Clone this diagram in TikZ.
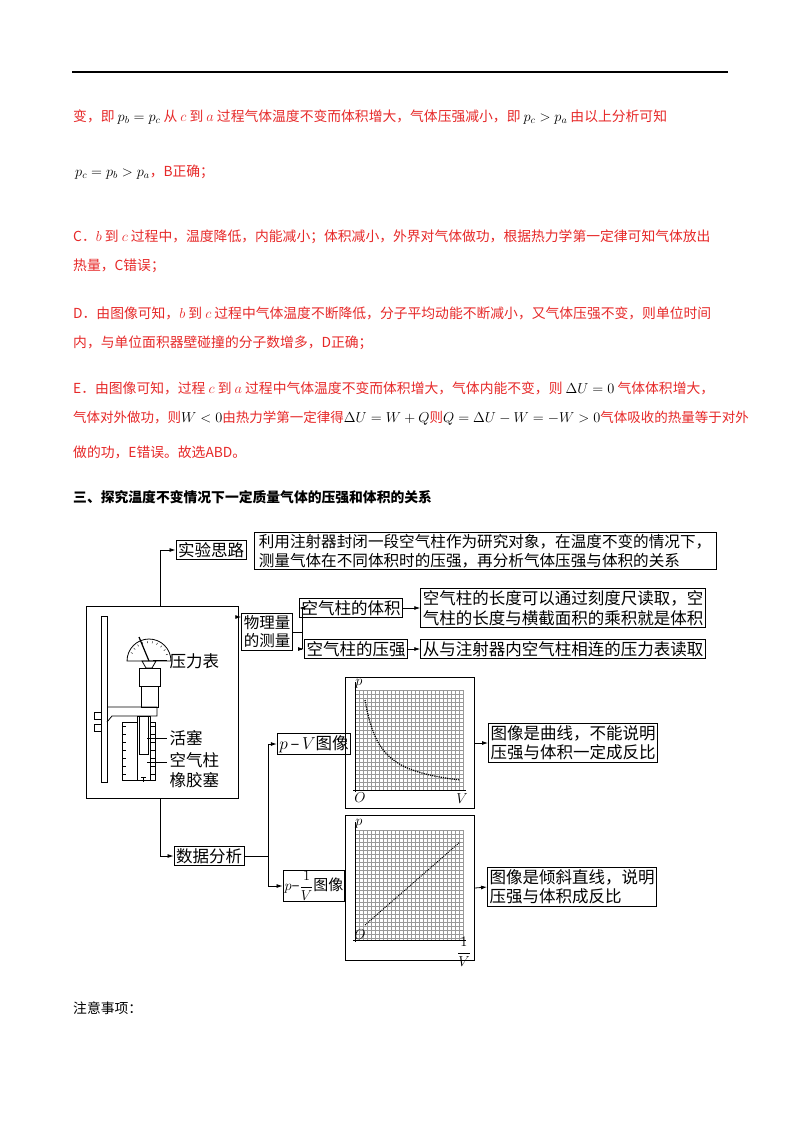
\documentclass[tikz,border=0pt]{standalone}
\usepackage{fontspec}
\setmainfont{Noto Sans CJK SC}
\usetikzlibrary{arrows.meta}
\definecolor{ans}{RGB}{230,40,40}
\begin{document}
\begin{tikzpicture}[x=1pt,y=-1pt,
  tl/.style={anchor=west,inner sep=0,text=ans,font=\fontsize{13.8}{16}\selectfont},
  bx/.style={draw,line width=1pt,inner sep=2pt,font=\fontsize{16.5}{19.5}\selectfont,align=left},
  ar/.style={-{Latex[length=6pt,width=4pt]},line width=0.8pt},
  ln/.style={line width=0.8pt},
  gl/.style={font=\fontsize{15}{15}\selectfont,inner sep=0}]
\useasboundingbox (0,0) rectangle (800,1132);
\draw[line width=1.2pt] (72,72) -- (728,72);
\node[tl] (l1) at (73,117) {变，即 $\color{black}p_b=p_c$ 从 $c$ 到 $a$ 过程气体温度不变而体积增大，气体压强减小，即 $\color{black}p_c>p_a$ 由以上分析可知};
\node[tl] (l2) at (75,172) {$\color{black}p_c=p_b>p_a$，B正确；};
\node[tl] (l3) at (73,237) {C．$b$ 到 $c$ 过程中，温度降低，内能减小；体积减小，外界对气体做功，根据热力学第一定律可知气体放出};
\node[tl] (l4) at (73,266) {热量，C错误；};
\node[tl] (l5) at (73,313) {D．由图像可知，$b$ 到 $c$ 过程中气体温度不断降低，分子平均动能不断减小，又气体压强不变，则单位时间};
\node[tl] (l6) at (73,343) {内，与单位面积器壁碰撞的分子数增多，D正确；};
\node[tl] (l7) at (73,388) {E．由图像可知，过程 $c$ 到 $a$ 过程中气体温度不变而体积增大，气体内能不变，则 $\color{black}\Delta U=0$ 气体体积增大，};
\node[tl,font=\fontsize{13.5}{16}\selectfont] (l8) at (73,418) {气体对外做功，则$\color{black}W<0$由热力学第一定律得$\color{black}\Delta U=W+Q$则$\color{black}Q=\Delta U-W=-W>0$气体吸收的热量等于对外};
\node[tl] (l9) at (73,452) {做的功，E错误。故选ABD。};
\node[tl,text=black,font=\bfseries\fontsize{13.8}{16}\selectfont] (h) at (73,497) {三、探究温度不变情况下一定质量气体的压强和体积的关系};
% diagram boxes
\node[bx] (sy) at (211,550) {实验思路};
\node[bx,font=\fontsize{15.6}{19}\selectfont,minimum width=462pt] (syt) at (485,551) {利用注射器封闭一段空气柱作为研究对象，在温度不变的情况下，\\测量气体在不同体积时的压强，再分析气体压强与体积的关系};
\node[draw,line width=1pt,minimum width=152pt,minimum height=192pt] (app) at (162,702) {};
\node[bx,font=\fontsize{15.5}{18}\selectfont] (wl) at (267,632) {物理量\\的测量};
\node[bx] (tj) at (351,608) {空气柱的体积};
\node[bx] (yq) at (356,649) {空气柱的压强};
\node[bx,minimum width=278pt] (tjt) at (563,608) {空气柱的长度可以通过刻度尺读取，空\\气柱的长度与横截面积的乘积就是体积};
\node[bx,minimum width=278pt] (yqt) at (563,649) {从与注射器内空气柱相连的压力表读取};
\node[bx] (pv) at (314,744) {$p$\,--\,$V$图像};
\node[bx] (sj) at (209,856) {数据分析};
\node[bx,font=\fontsize{15}{18}\selectfont,inner sep=1.5pt] (pi) at (314,886) {$p$--$\displaystyle\frac{1}{V}$图像};
\node[draw,line width=1pt,minimum width=129pt,minimum height=131pt] (g1) at (410,743) {};
\node[draw,line width=1pt,minimum width=129pt,minimum height=145pt] (g2) at (410,888) {};
\node[bx] (g1t) at (573,743) {图像是曲线，不能说明\\压强与体积一定成反比};
\node[bx] (g2t) at (572,887) {图像是倾斜直线，说明\\压强与体积成反比};
% grids
\foreach \y/\t in {690/790,830/940}{
  \foreach \gx in {355,359,...,463} \draw[gray!80,line width=0.3pt] (\gx,\y) -- (\gx,\t);
}
\foreach \gy in {690,694,...,790} \draw[gray!80,line width=0.3pt] (355,\gy) -- (463,\gy);
\foreach \gy in {830,834,...,940} \draw[gray!80,line width=0.3pt] (355,\gy) -- (463,\gy);
\draw[line width=0.9pt] (355,792) -- (355,682);
\draw[line width=0.9pt] (353,790) -- (466,790);
\draw[line width=0.9pt] (355,942) -- (355,822);
\draw[line width=0.9pt] (353,940) -- (466,940);
\node[gl] (p1) at (359,684) {$p$};
\node[gl] (o1) at (360,798) {$O$};
\node[gl] (v1) at (462,799) {$V$};
\node[gl] (p2) at (359,824) {$p$};
\node[gl] (o2) at (360,935) {$O$};
\node[gl] (v2) at (464,952) {$\displaystyle\frac{1}{V}$};
\draw[line width=1.2pt,densely dotted] plot[domain=0:1,samples=40] ({365+\x*95},{780-80*(1/(1+6*\x)-1/7)/(6/7)});
\draw[line width=1pt,densely dotted] (365,925) -- (460,842);
% connectors
\draw[ln] (160,550) -- (160,606);
\draw[ar] (160,550) -- (sy.west);
\draw[ln] (160,798) -- (160,856);
\draw[ar] (160,856) -- (sj.west);
\draw[ar] (app.east |- 0,617) -- (wl.west |- 0,617);
\draw[ln] (wl.east) -- (302,632);
\draw[ln] (302,608) -- (302,649);
\draw[ar] (302,608) -- (tj.west);
\draw[ar] (302,649) -- (yq.west);
\draw[ar] (tj.east) -- (tjt.west);
\draw[ar] (yq.east) -- (yqt.west);
\draw[ln] (sj.east) -- (268,856);
\draw[ln] (268,744) -- (268,886);
\draw[ar] (268,744) -- (pv.west);
\draw[ar] (268,886) -- (pi.west);
\draw[ar] (g1.east) -- (g1t.west);
\draw[ar] (g2.east) -- (g2t.west);
% apparatus
\draw[line width=0.8pt] (101,616) rectangle (107,782);
\draw[line width=0.8pt] (127,661) arc (180:360:22) -- cycle;
\foreach \a in {20,35,...,160} \draw ({149+18*cos(\a)},{661-18*sin(\a)}) -- ({149+20*cos(\a)},{661-20*sin(\a)});
\draw[line width=1.2pt] (149,661) -- (139,637);
\draw[line width=0.8pt] (142,661) -- (156,661) -- (152,668) -- (146,668) -- cycle;
\draw[line width=0.8pt] (139,668) rectangle (160,686);
\draw[line width=0.8pt] (141,686) rectangle (158,707);
\draw[line width=0.8pt] (107,707) -- (157,707) -- (157,716) -- (112,716) -- (107,722);
\draw[line width=0.8pt] (94,712) rectangle (101,719) (94,724) rectangle (101,731);
\draw[line width=0.8pt] (122,722) rectangle (137,780) (150,722) rectangle (155,780);
\draw[line width=0.8pt] (137,716) rectangle (150,780);
\draw[line width=0.8pt] (139,716) rectangle (148,754);
\foreach \y in {726,734,...,774}{\draw (122,\y)--(126,\y); \draw (155,\y)--(151,\y);}
\draw[line width=0.8pt] (141,777) -- (146,777) (143,777)--(143,782);
\draw[ln] (153,660) -- (167,660);
\draw[ln] (147,738) -- (167,738);
\draw[ln] (147,762) -- (167,762);
\node[anchor=west,font=\fontsize{16.5}{19}\selectfont] (ylb) at (166,661) {压力表};
\node[anchor=west,font=\fontsize{16.5}{19}\selectfont] (hs) at (166,738) {活塞};
\node[anchor=west,font=\fontsize{16.5}{19}\selectfont] (kq) at (166,760) {空气柱};
\node[anchor=west,font=\fontsize{16.5}{19}\selectfont] (xj) at (166,780) {橡胶塞};
\node[tl,text=black] (zy) at (73,1008) {注意事项：};
\end{tikzpicture}
\end{document}
